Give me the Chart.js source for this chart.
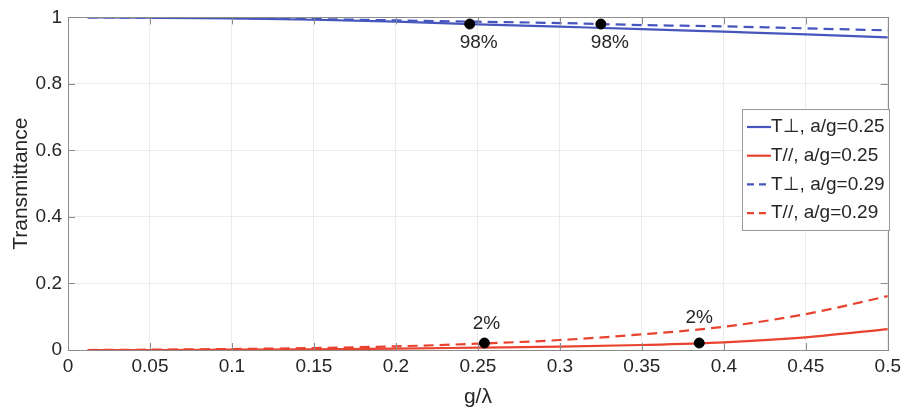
<!DOCTYPE html>
<html>
<head>
<meta charset="utf-8">
<script src="https://cdn.jsdelivr.net/npm/chart.js@4.4.1/dist/chart.umd.min.js"></script>
<style>
html,body{margin:0;padding:0;background:#fff;}
#wrap{position:relative;width:906px;height:410px;}
</style>
</head>
<body>
<div id="wrap"><canvas id="c" width="906" height="410"></canvas></div>
<script>
// ---- data ----
const gLambda   = [0.012, 0.05, 0.1, 0.15, 0.2, 0.25, 0.3, 0.35, 0.4, 0.45, 0.5];
const tPerp025  = [1.000, 0.999, 0.997, 0.993, 0.987, 0.979, 0.972, 0.965, 0.957, 0.949, 0.940];
const tPar025   = [0.000, 0.000, 0.001, 0.002, 0.004, 0.007, 0.010, 0.015, 0.023, 0.038, 0.063];
const tPerp029  = [1.000, 0.999, 0.998, 0.995, 0.991, 0.987, 0.983, 0.977, 0.973, 0.967, 0.961];
const tPar029   = [0.000, 0.001, 0.003, 0.006, 0.011, 0.019, 0.030, 0.047, 0.070, 0.108, 0.162];
const seriesNames = ['T\u22A5, a/g=0.25', 'T//, a/g=0.25', 'T\u22A5, a/g=0.29', 'T//, a/g=0.29'];
const markerX = [0.245, 0.325, 0.254, 0.385];
const markerY = [0.98, 0.98, 0.021, 0.021];
const markerLabels = ['98%', '98%', '2%', '2%'];
const xTickLabels = ['0','0.05','0.1','0.15','0.2','0.25','0.3','0.35','0.4','0.45','0.5'];
const yTickLabels = ['0','0.2','0.4','0.6','0.8','1'];

// ---- style ----
const labelOffsets = [[9, 19], [9, 19], [2, -19], [0, -25]];
const BLUE = '#4656bd';
const RED = '#e8432f';
const FONT = "'Liberation Sans', Arial, sans-serif";
const TXT = '#262626';

function pts(ys){ return gLambda.map((x,i)=>({x:x, y:ys[i]})); }

const lineSets = [
  {label: seriesNames[0], data: pts(tPerp025), borderColor: BLUE, dash: []},
  {label: seriesNames[1], data: pts(tPar025),  borderColor: RED,  dash: []},
  {label: seriesNames[2], data: pts(tPerp029), borderColor: BLUE, dash: [10,6]},
  {label: seriesNames[3], data: pts(tPar029),  borderColor: RED,  dash: [10,6]},
].map(s => ({
  type: 'line', label: s.label, data: s.data, borderColor: s.borderColor,
  borderDash: s.dash, borderWidth: 2.2, pointRadius: 0, fill: false,
  cubicInterpolationMode: 'monotone', order: 2
}));

const markerSet = {
  type: 'scatter', label: 'markers',
  data: markerX.map((x,i)=>({x:x, y:markerY[i]})),
  backgroundColor: '#000', borderColor: '#000', pointRadius: 5, order: 1
};

const overlay = {
  id: 'overlay',
  afterDraw(chart){
    const ctx = chart.ctx, xs = chart.scales.x, ys = chart.scales.y, ca = chart.chartArea;
    ctx.save();
    ctx.strokeStyle = '#8c8c8c'; ctx.lineWidth = 1;
    ctx.strokeRect(Math.round(ca.left)+0.5, Math.round(ca.top)+0.5, Math.round(ca.right-ca.left), Math.round(ca.bottom-ca.top));
    ctx.beginPath();
    xTickLabels.forEach(t=>{
      const px = Math.round(xs.getPixelForValue(parseFloat(t)))+0.5;
      ctx.moveTo(px, ca.bottom); ctx.lineTo(px, ca.bottom-7);
      ctx.moveTo(px, ca.top); ctx.lineTo(px, ca.top+7);
    });
    yTickLabels.forEach(t=>{
      const py = Math.round(ys.getPixelForValue(parseFloat(t)))+0.5;
      ctx.moveTo(ca.left, py); ctx.lineTo(ca.left+7, py);
      ctx.moveTo(ca.right, py); ctx.lineTo(ca.right-7, py);
    });
    ctx.stroke();
    ctx.fillStyle = TXT; ctx.font = '19px ' + FONT; ctx.textAlign = 'center'; ctx.textBaseline = 'middle';
    markerX.forEach((x,i)=>{
      const px = xs.getPixelForValue(x), py = ys.getPixelForValue(markerY[i]);
      ctx.fillText(markerLabels[i], px + labelOffsets[i][0], py + labelOffsets[i][1]);
    });
    const lx = 742, ly = 109, lw = 147, lh = 121;
    ctx.fillStyle = '#fff'; ctx.fillRect(lx, ly, lw, lh);
    ctx.strokeStyle = '#9a9a9a'; ctx.lineWidth = 1;
    ctx.strokeRect(lx+0.5, ly+0.5, lw, lh);
    ctx.font = '19px ' + FONT; ctx.textAlign = 'left'; ctx.textBaseline = 'middle';
    lineSets.forEach((s,i)=>{
      const cy = ly + 18 + i*28.7;
      ctx.strokeStyle = s.borderColor; ctx.lineWidth = 2.2; ctx.setLineDash(s.borderDash.length ? [7,5] : []);
      ctx.beginPath(); ctx.moveTo(lx+5, cy); ctx.lineTo(lx+29, cy); ctx.stroke();
      ctx.setLineDash([]);
      ctx.fillStyle = TXT; ctx.fillText(s.label, lx+29, cy);
    });
    ctx.restore();
  }
};

new Chart(document.getElementById('c'), {
  data: { datasets: [...lineSets, markerSet] },
  options: {
    responsive: false, animation: false,
    layout: { padding: { top: 15, right: 17, left: 0, bottom: 0 } },
    plugins: { legend: { display: false }, tooltip: { enabled: false } },
    scales: {
      x: {
        type: 'linear', min: 0, max: 0.5,
        afterBuildTicks(ax){ ax.ticks = xTickLabels.map(v=>({value: parseFloat(v)})); },
        afterFit(ax){ ax.height = 60; },
        ticks: { callback: (v,i)=>xTickLabels[i], font: {size: 19, family: FONT}, color: TXT, padding: 5, maxRotation: 0 },
        grid: { color: '#ebebeb', drawTicks: false },
        border: { display: false },
        title: { display: true, text: 'g/\u03BB', font: {size: 21, family: FONT}, color: TXT, padding: {top: 0, bottom: 0} }
      },
      y: {
        type: 'linear', min: 0, max: 1,
        afterBuildTicks(ax){ ax.ticks = yTickLabels.map(v=>({value: parseFloat(v)})); },
        afterFit(ax){ ax.width = 68; },
        ticks: { callback: (v,i)=>yTickLabels[i], font: {size: 19, family: FONT}, color: TXT, padding: 6 },
        grid: { color: '#ebebeb', drawTicks: false },
        border: { display: false },
        title: { display: true, text: 'Transmittance', font: {size: 21, family: FONT}, color: TXT, padding: {top: 9, bottom: 0} }
      }
    }
  },
  plugins: [overlay]
});
</script>
</body>
</html>
